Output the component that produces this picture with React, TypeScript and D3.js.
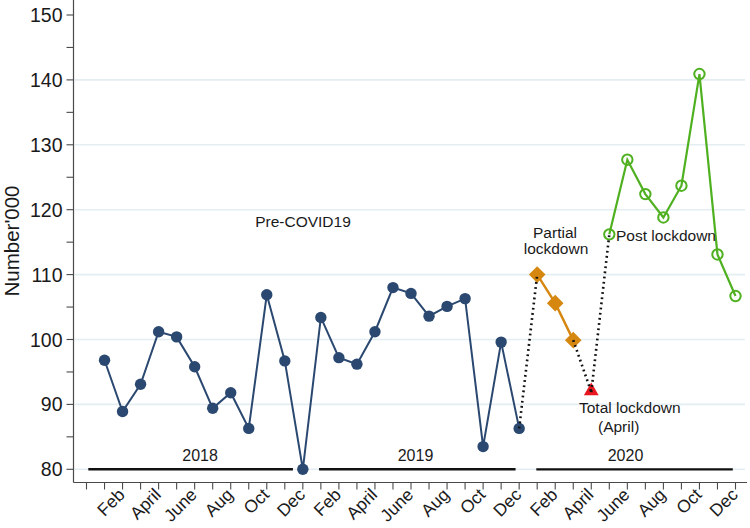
import React from "react";
import * as d3 from "d3";

// ---- data ----
const monthLabels = ["Feb", "April", "June", "Aug", "Oct", "Dec"];
const years = ["2018", "2019", "2020"];
// month index 0 = Jan 2018
const preCovid = [96.8, 88.9, 93.1, 101.2, 100.4, 95.8, 89.4, 91.8, 86.3, 106.9, 96.7, 80.0,
  103.4, 97.2, 96.2, 101.2, 108.0, 107.1, 103.6, 105.1, 106.3, 83.5, 99.6, 86.3];
const partialLockdown = [110.0, 105.6, 99.9]; // Jan-Mar 2020
const totalLockdown = [91.9]; // Apr 2020
const postLockdown = [116.2, 127.7, 122.4, 118.8, 123.7, 140.9, 113.1, 106.7]; // May-Dec 2020
const yTicksMajor = [80, 90, 100, 110, 120, 130, 140, 150];
const yTicksMinor = [85, 95, 105, 115, 125, 135, 145];
// year bars in month units (start, end), label position
const yearBars = [[-0.9, 10.45], [11.9, 22.8], [23.95, 34.85]];
const yearLabelPos = [5.3, 17.25, 28.9];

const W = 750, H = 528;
const FONT = "'Liberation Sans', Arial, Helvetica, sans-serif";

export default function App() {
  const x = d3.scaleLinear().domain([-1, 35]).range([86.5, 735.5]);
  const y = d3.scaleLinear().domain([80, 150]).range([469.3, 15]);
  const axisY = 482.5;
  const axisX = 73.5;

  const pre = preCovid.map((v, i) => [i, v] as [number, number]);
  const part = partialLockdown.map((v, i) => [24 + i, v] as [number, number]);
  const tot = totalLockdown.map((v, i) => [27 + i, v] as [number, number]);
  const post = postLockdown.map((v, i) => [28 + i, v] as [number, number]);

  const line = d3.line<[number, number]>().x(d => x(d[0])).y(d => y(d[1]));

  const dotted: [number, number][][] = [
    [pre[pre.length - 1], part[0]],
    [part[part.length - 1], tot[0]],
    [tot[0], post[0]],
  ];

  const monthTicks = d3.range(-1, 36);
  const labeled = d3.range(0, 36).filter(i => i % 2 === 1);

  const blue = "#2a4870";
  const orange = "#d6870f";
  const red = "#e8161e";
  const green = "#4fb020";

  const diamond = d3.symbol().type(d3.symbolDiamond2).size(175)();
  const triangle = d3.symbol().type(d3.symbolTriangle).size(95)();

  return (
    <svg width={W} height={H} style={{ position: "fixed", left: 0, top: 0, background: "#fff" }} fontFamily={FONT}>
      <rect width={W} height={H} fill="#fff" />
      {/* grid */}
      {yTicksMajor.filter(v => v < 150).map(v => (
        <line key={"g" + v} x1={axisX + 1} x2={745} y1={y(v)} y2={y(v)} stroke="#e4edf1" strokeWidth={1.6} />
      ))}
      {/* y axis */}
      <line x1={axisX} x2={axisX} y1={0} y2={axisY} stroke="#4a4a4a" strokeWidth={1.2} />
      {[...yTicksMajor, ...yTicksMinor].map(v => (
        <line key={"yt" + v} x1={axisX - 7} x2={axisX} y1={y(v)} y2={y(v)} stroke="#4a4a4a" strokeWidth={1.1} />
      ))}
      {yTicksMajor.map(v => (
        <text key={"yl" + v} x={62.5} y={y(v)} dy="0.36em" textAnchor="end" fontSize={19.5} fill="#1a1a1a">{v}</text>
      ))}
      <text transform={`translate(19,241) rotate(-90)`} textAnchor="middle" fontSize={20.5} fill="#1a1a1a">Number'000</text>
      {/* x axis */}
      <line x1={axisX} x2={747} y1={axisY} y2={axisY} stroke="#4a4a4a" strokeWidth={1.2} />
      {monthTicks.map(i => (
        <line key={"xt" + i} x1={x(i)} x2={x(i)} y1={axisY} y2={axisY + 7} stroke="#4a4a4a" strokeWidth={1.1} />
      ))}
      {labeled.map(i => (
        <text key={"xl" + i} transform={`translate(${x(i) - 1},${axisY + 9}) rotate(-45)`} dy="0.35em" textAnchor="end" fontSize={17.5} fill="#1a1a1a">
          {monthLabels[((i % 12) - 1) / 2]}
        </text>
      ))}
      {/* year bars */}
      {yearBars.map((b, k) => (
        <g key={"yb" + k}>
          <line x1={x(b[0])} x2={x(b[1])} y1={y(80)} y2={y(80)} stroke="#111" strokeWidth={k === 2 ? 2.2 : 2.6} />
          <text x={x(yearLabelPos[k])} y={461} textAnchor="middle" fontSize={16} fill="#1a1a1a">{years[k]}</text>
        </g>
      ))}
      {/* pre covid */}
      <path d={line(pre) || ""} fill="none" stroke={blue} strokeWidth={2} />
      {pre.map((d, i) => <circle key={"p" + i} cx={x(d[0])} cy={y(d[1])} r={5.7} fill={blue} />)}
      {/* partial */}
      <path d={line(part) || ""} fill="none" stroke={orange} strokeWidth={2.4} />
      {part.map((d, i) => <path key={"o" + i} d={diamond || ""} transform={`translate(${x(d[0])},${y(d[1])})`} fill={orange} />)}
      {/* total */}
      {tot.map((d, i) => <path key={"r" + i} d={triangle || ""} transform={`translate(${x(d[0])},${y(d[1]) - 1})`} fill={red} />)}
      {/* post */}
      <path d={line(post) || ""} fill="none" stroke={green} strokeWidth={2.2} />
      {post.map((d, i) => <circle key={"gr" + i} cx={x(d[0])} cy={y(d[1])} r={5.2} fill="none" stroke={green} strokeWidth={2} />)}
      {/* dotted connectors */}
      {dotted.map((seg, k) => (
        <path key={"d" + k} d={line(seg) || ""} fill="none" stroke="#111" strokeWidth={2.6} strokeDasharray="1.8 3.4" />
      ))}
      {/* annotations */}
      <text x={303} y={226.7} textAnchor="middle" fontSize={15.5} fill="#1a1a1a">Pre-COVID19</text>
      <text x={555} y={237.7} textAnchor="middle" fontSize={15.5} fill="#1a1a1a">Partial</text>
      <text x={556} y={254} textAnchor="middle" fontSize={15.5} fill="#1a1a1a">lockdown</text>
      <text x={616} y={240.5} fontSize={15.5} fill="#1a1a1a">Post lockdown</text>
      <text x={579} y={413} fontSize={15.5} fill="#1a1a1a">Total lockdown</text>
      <text x={598} y={431.7} fontSize={15.5} fill="#1a1a1a">(April)</text>
    </svg>
  );
}
